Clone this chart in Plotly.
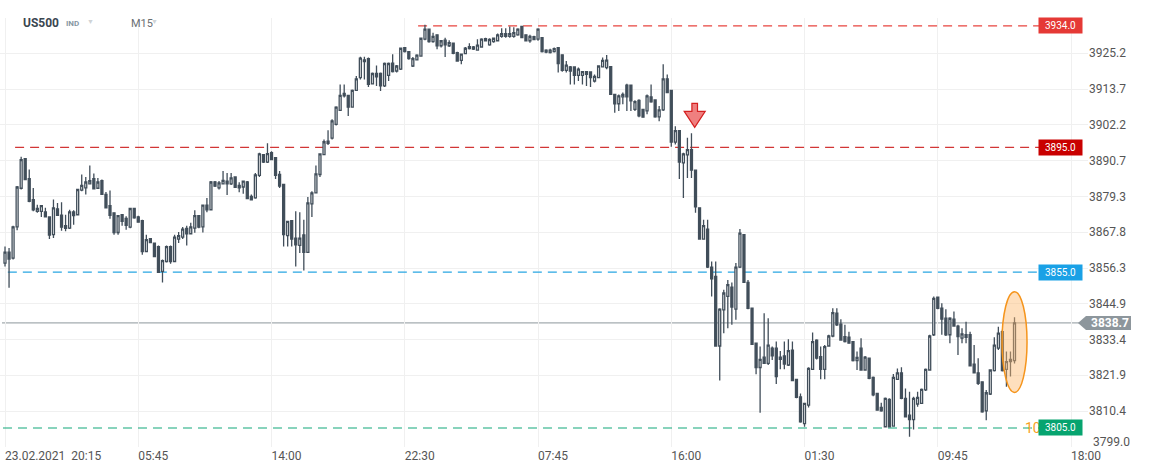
import plotly.graph_objects as go

# ---------------- data (15-minute bars) ----------------
opens = [
    3857.9, 3861.4, 3859.5, 3869.5, 3881.9, 3891.4, 3885.0, 3878.2, 3874.5, 3874.5,
    3874.3, 3872.7, 3867.0, 3875.3, 3873.3, 3869.9, 3869.1, 3874.3, 3873.4, 3881.3,
    3882.0, 3883.3, 3885.0, 3881.9, 3884.3, 3879.9, 3876.3, 3874.0, 3867.7, 3873.4,
    3872.2, 3869.4, 3875.4, 3872.7, 3871.5, 3861.6, 3865.7, 3864.3, 3863.2, 3855.2,
    3858.4, 3863.2, 3858.4, 3865.6, 3866.2, 3869.0, 3867.3, 3869.1, 3873.1, 3869.5,
    3876.5, 3875.0, 3883.9, 3882.0, 3883.3, 3884.2, 3883.3, 3885.5, 3882.8, 3882.3,
    3883.9, 3879.3, 3878.8, 3886.0, 3892.7, 3890.3, 3893.3, 3891.7, 3886.3, 3883.1,
    3866.7, 3871.5, 3865.9, 3863.6, 3866.9, 3861.3, 3876.9, 3880.4, 3886.3, 3892.7,
    3897.0, 3898.0, 3902.4, 3906.9, 3912.3, 3911.7, 3907.9, 3913.3, 3917.4, 3922.5,
    3923.5, 3915.4, 3918.7, 3918.7, 3914.7, 3918.1, 3922.0, 3919.5, 3920.1, 3927.0,
    3925.7, 3921.1, 3923.1, 3924.3, 3929.7, 3932.9, 3928.95, 3931.1, 3927.6, 3929.4,
    3927.6, 3928.4, 3925.4, 3922.9, 3925.1, 3926.7, 3927.2, 3926.2, 3927.2, 3929.9,
    3927.9, 3928.95, 3929.2, 3930.6, 3931.5, 3930.6, 3930.6, 3931.1, 3933.8, 3931.1,
    3929.2, 3930.5, 3929.7, 3930.2, 3926.2, 3925.4, 3925.7, 3927.0, 3924.7, 3919.7,
    3920.8, 3920.8, 3918.1, 3918.1, 3919.3, 3919.2, 3916.3, 3917.4, 3920.8, 3920.6,
    3920.9, 3912.0, 3909.0, 3911.2, 3915.0, 3915.0, 3907.2, 3910.1, 3907.2, 3906.7,
    3911.2, 3910.2, 3904.8, 3907.0, 3917.0, 3913.3, 3896.7, 3900.4, 3890.0, 3892.6,
    3894.3, 3887.7, 3875.6, 3865.6, 3868.8, 3856.6, 3853.6, 3831.3, 3842.9, 3847.2,
    3850.2, 3843.1, 3856.6, 3867.0, 3851.7, 3843.4, 3832.2, 3824.4, 3827.7, 3825.7,
    3830.6, 3830.6, 3827.0, 3828.1, 3825.2, 3830.0, 3820.6, 3815.0, 3806.4, 3812.3,
    3823.8, 3833.2, 3827.9, 3823.8, 3831.3, 3834.5, 3841.8, 3838.3, 3834.3, 3834.1,
    3832.7, 3826.6, 3830.6, 3823.6, 3827.4, 3821.2, 3816.1, 3811.6, 3805.4, 3814.2,
    3805.6, 3820.6, 3822.7, 3814.5, 3809.1, 3807.7, 3812.7, 3812.9, 3817.2, 3823.6,
    3834.9, 3847.0, 3843.4, 3840.2, 3834.9, 3839.9, 3837.7, 3833.8, 3834.9, 3834.9,
    3825.5, 3822.7, 3819.8, 3810.5, 3815.9, 3823.4, 3830.6, 3835.9, 3823.8, 3826.3,
    3826.6,
]
highs = [
    3863.2, 3862.7, 3869.9, 3882.6, 3892.0, 3891.6, 3887.9, 3882.0, 3876.6, 3876.3,
    3875.6, 3872.9, 3878.3, 3877.2, 3877.4, 3873.4, 3875.0, 3874.8, 3881.7, 3886.3,
    3885.5, 3889.2, 3886.6, 3885.2, 3884.7, 3880.7, 3881.2, 3874.2, 3873.3, 3873.6,
    3872.9, 3875.6, 3875.6, 3873.1, 3871.8, 3867.0, 3865.8, 3864.5, 3863.5, 3859.0,
    3863.5, 3863.5, 3867.0, 3867.9, 3869.5, 3869.9, 3870.8, 3874.8, 3873.3, 3876.6,
    3878.8, 3884.2, 3884.2, 3884.2, 3887.4, 3886.8, 3886.8, 3885.6, 3883.8, 3884.4,
    3884.2, 3879.9, 3886.8, 3893.3, 3892.8, 3896.3, 3893.8, 3891.8, 3887.4, 3883.2,
    3871.5, 3871.6, 3874.5, 3874.2, 3871.8, 3879.1, 3880.9, 3889.2, 3893.0, 3897.5,
    3900.5, 3904.0, 3908.2, 3915.2, 3915.2, 3911.8, 3913.6, 3917.9, 3924.1, 3924.1,
    3923.8, 3919.0, 3921.3, 3919.0, 3922.2, 3922.2, 3924.9, 3921.4, 3927.0, 3927.2,
    3925.8, 3924.0, 3924.9, 3930.2, 3934.3, 3933.0, 3931.8, 3931.2, 3929.4, 3930.2,
    3929.4, 3928.6, 3925.7, 3925.1, 3927.2, 3928.4, 3927.5, 3929.7, 3930.0, 3930.2,
    3930.0, 3930.2, 3931.5, 3933.2, 3933.2, 3933.8, 3933.5, 3933.2, 3934.0, 3931.3,
    3931.1, 3930.8, 3933.2, 3930.4, 3926.5, 3926.6, 3927.0, 3927.1, 3924.9, 3922.7,
    3921.1, 3921.0, 3920.6, 3919.5, 3919.4, 3919.3, 3918.4, 3921.3, 3923.8, 3924.6,
    3921.1, 3912.2, 3912.0, 3912.6, 3915.4, 3915.2, 3910.1, 3910.4, 3907.4, 3912.0,
    3915.2, 3910.4, 3908.3, 3921.7, 3918.4, 3913.5, 3901.8, 3900.6, 3893.3, 3898.1,
    3899.5, 3887.9, 3875.8, 3871.8, 3871.8, 3858.4, 3858.4, 3843.4, 3849.3, 3852.5,
    3851.7, 3857.9, 3868.8, 3867.2, 3852.5, 3843.6, 3832.4, 3831.1, 3841.8, 3840.2,
    3831.1, 3832.7, 3829.7, 3832.7, 3833.5, 3832.7, 3820.7, 3816.1, 3813.1, 3824.5,
    3835.6, 3833.5, 3831.1, 3831.6, 3834.9, 3843.4, 3843.4, 3839.9, 3838.1, 3835.9,
    3832.9, 3829.5, 3833.8, 3828.1, 3827.5, 3821.5, 3816.3, 3813.1, 3814.8, 3814.5,
    3822.3, 3824.1, 3824.5, 3817.7, 3816.6, 3815.0, 3816.6, 3817.7, 3824.1, 3834.9,
    3847.2, 3847.2, 3845.0, 3843.1, 3840.5, 3842.4, 3838.1, 3837.0, 3839.1, 3835.9,
    3831.6, 3827.4, 3819.9, 3817.2, 3823.8, 3834.1, 3837.5, 3836.5, 3829.5, 3829.5,
    3840.5,
]
lows = [
    3856.8, 3850.0, 3859.0, 3868.4, 3881.5, 3884.5, 3877.4, 3874.5, 3874.0, 3872.7,
    3872.5, 3865.6, 3865.9, 3873.0, 3868.3, 3868.1, 3868.8, 3870.2, 3873.2, 3880.9,
    3879.9, 3883.1, 3881.5, 3881.7, 3879.7, 3875.4, 3872.1, 3867.0, 3867.0, 3869.9,
    3868.6, 3869.1, 3872.1, 3870.8, 3860.6, 3861.4, 3864.5, 3859.8, 3854.7, 3851.7,
    3858.1, 3857.7, 3858.2, 3864.3, 3865.6, 3863.5, 3867.1, 3867.6, 3869.1, 3867.7,
    3874.2, 3874.8, 3882.3, 3881.5, 3883.1, 3879.7, 3882.9, 3882.0, 3880.6, 3880.1,
    3878.5, 3878.0, 3878.5, 3885.5, 3890.0, 3890.0, 3890.9, 3884.9, 3882.0, 3863.2,
    3863.2, 3863.2, 3856.8, 3861.1, 3855.5, 3861.1, 3872.7, 3880.2, 3885.5, 3892.5,
    3895.8, 3897.5, 3902.0, 3906.7, 3911.0, 3905.1, 3907.7, 3913.1, 3916.8, 3916.8,
    3914.4, 3915.2, 3914.7, 3913.1, 3914.4, 3916.3, 3919.0, 3919.0, 3919.8, 3925.4,
    3923.1, 3920.8, 3923.0, 3924.1, 3929.4, 3928.6, 3928.6, 3926.5, 3927.0, 3924.0,
    3927.2, 3924.9, 3922.5, 3921.7, 3924.9, 3926.4, 3926.2, 3926.0, 3927.0, 3928.95,
    3927.6, 3928.6, 3928.95, 3930.2, 3930.2, 3930.2, 3930.2, 3930.8, 3930.0, 3928.95,
    3928.6, 3929.4, 3929.2, 3925.4, 3925.2, 3925.1, 3925.4, 3919.0, 3919.3, 3919.0,
    3915.2, 3915.2, 3916.3, 3915.2, 3914.7, 3914.4, 3915.8, 3917.2, 3920.6, 3920.1,
    3911.8, 3906.1, 3906.7, 3908.8, 3906.7, 3906.7, 3906.7, 3904.7, 3904.5, 3905.6,
    3909.3, 3904.5, 3903.4, 3906.7, 3912.4, 3895.2, 3895.9, 3884.9, 3878.8, 3885.2,
    3885.2, 3874.0, 3865.4, 3865.4, 3856.3, 3847.2, 3831.1, 3820.2, 3835.4, 3837.0,
    3838.1, 3839.7, 3856.3, 3851.5, 3843.1, 3831.6, 3822.2, 3809.9, 3825.5, 3825.2,
    3826.8, 3819.1, 3823.8, 3823.8, 3824.9, 3820.1, 3814.5, 3806.7, 3805.4, 3811.6,
    3823.6, 3827.0, 3820.6, 3820.6, 3831.1, 3834.1, 3837.7, 3833.0, 3832.4, 3832.0,
    3826.3, 3823.6, 3823.4, 3823.4, 3820.6, 3815.2, 3810.5, 3810.2, 3805.2, 3805.2,
    3805.4, 3820.4, 3814.2, 3808.4, 3802.2, 3804.5, 3811.8, 3812.7, 3816.9, 3823.4,
    3834.5, 3843.1, 3834.9, 3834.5, 3832.2, 3837.5, 3828.4, 3832.2, 3832.2, 3824.7,
    3822.5, 3818.8, 3809.9, 3807.5, 3815.6, 3823.1, 3830.0, 3823.1, 3818.2, 3821.5,
    3825.7,
]
closes = [
    3861.4, 3859.2, 3869.5, 3882.3, 3891.1, 3884.7, 3877.7, 3875.0, 3875.4, 3876.3,
    3872.7, 3866.9, 3875.6, 3873.2, 3869.4, 3869.0, 3874.3, 3873.1, 3881.5, 3882.8,
    3883.9, 3884.3, 3881.7, 3883.9, 3879.9, 3875.6, 3873.2, 3867.7, 3873.1, 3871.3,
    3870.0, 3875.4, 3872.4, 3871.0, 3861.6, 3865.4, 3864.5, 3860.0, 3854.9, 3858.7,
    3863.2, 3858.4, 3866.2, 3866.7, 3868.8, 3867.3, 3869.5, 3873.1, 3869.4, 3876.5,
    3875.0, 3883.9, 3882.6, 3883.6, 3884.4, 3883.3, 3885.2, 3882.2, 3882.0, 3884.2,
    3878.6, 3878.2, 3886.2, 3892.9, 3890.3, 3893.0, 3891.1, 3886.0, 3882.6, 3867.0,
    3871.3, 3865.6, 3863.7, 3865.9, 3861.3, 3877.2, 3880.4, 3886.5, 3892.9, 3896.8,
    3896.3, 3903.5, 3907.9, 3911.7, 3911.5, 3907.9, 3913.3, 3917.0, 3923.6, 3923.1,
    3915.2, 3918.7, 3917.6, 3914.7, 3921.9, 3921.9, 3919.3, 3921.1, 3926.8, 3925.7,
    3923.5, 3923.5, 3924.6, 3930.0, 3932.9, 3928.95, 3930.6, 3927.6, 3929.2, 3927.9,
    3928.6, 3925.2, 3922.7, 3924.9, 3926.8, 3927.3, 3926.5, 3927.8, 3929.7, 3929.2,
    3929.6, 3930.0, 3931.1, 3931.5, 3930.6, 3931.5, 3931.8, 3932.9, 3930.2, 3929.2,
    3930.6, 3929.6, 3932.9, 3925.7, 3925.6, 3926.2, 3926.7, 3921.9, 3919.7, 3921.4,
    3919.5, 3918.1, 3920.1, 3919.3, 3918.4, 3917.4, 3917.8, 3921.1, 3922.9, 3923.0,
    3912.0, 3909.0, 3911.5, 3912.0, 3911.2, 3909.9, 3909.7, 3905.1, 3904.7, 3911.5,
    3909.6, 3904.8, 3907.0, 3917.0, 3912.6, 3896.7, 3900.4, 3890.3, 3892.9, 3894.3,
    3887.7, 3875.9, 3865.6, 3869.9, 3856.6, 3852.8, 3831.3, 3843.1, 3848.3, 3851.0,
    3843.8, 3856.6, 3867.5, 3851.7, 3843.4, 3831.8, 3824.4, 3827.0, 3825.7, 3831.6,
    3828.1, 3821.5, 3827.7, 3825.5, 3829.8, 3820.2, 3814.8, 3807.0, 3812.9, 3824.1,
    3832.7, 3827.4, 3823.8, 3831.1, 3834.5, 3842.0, 3838.1, 3833.2, 3832.7, 3832.2,
    3826.6, 3827.6, 3823.6, 3827.7, 3820.9, 3815.6, 3810.7, 3810.5, 3814.5, 3805.4,
    3821.2, 3822.7, 3814.5, 3808.6, 3807.7, 3814.5, 3814.8, 3817.4, 3823.8, 3834.5,
    3846.6, 3843.4, 3839.9, 3834.9, 3840.2, 3837.7, 3834.3, 3835.2, 3834.1, 3824.9,
    3822.7, 3819.3, 3810.2, 3816.3, 3823.6, 3831.6, 3835.4, 3823.4, 3826.3, 3827.0,
    3838.7,
]

# time axis (bar index based) and its labels
tick_bars = [0, 33, 66, 99, 132, 165, 198, 231, 264]
tick_labels = ["23.02.2021\u00a0\u00a020:15", "05:45", "14:00", "22:30", "07:45",
               "16:00", "01:30", "09:45", "18:00"]

# price axis labels
price_ticks = [3799.0, 3810.4, 3821.9, 3833.4, 3844.9, 3856.3, 3867.8, 3879.3,
               3890.7, 3902.2, 3913.7, 3925.2]

# horizontal levels drawn on the chart
levels = [3934.0, 3895.0, 3855.0, 3805.0]
level_start_bars = [102.3, 2.5, 0.7, -0.5]
level_line_colors = ["#e8443f", "#d23636", "#29a6e2", "#12a87a"]
level_box_colors = ["#e53935", "#c90000", "#1aa1e6", "#06a46f"]

# annotations on the chart
arrow_bar, arrow_price = 170.8, 3901.4
ellipse_bars = [246.9, 253.1]
ellipse_prices = [3816.4, 3848.7]

# ---------------- layout constants ----------------
FONT = "Roboto, 'Open Sans', Arial, sans-serif"
CANDLE = "#414e5a"
W, H = 1151, 472
M_L, M_R, M_T, M_B = 0, 63, 18, 25
PW = W - M_L - M_R
PH = H - M_T - M_B
x_range = [-1.24, 268.2]
y_range = [3798.9, 3936.5]


def px_x(px):
    return (px - M_L) / PW


def px_y(py):
    return (H - M_B - py) / PH


def bar_at_px(px):
    return x_range[0] + px_x(px) * (x_range[1] - x_range[0])


n = len(opens)
assert n == len(highs) == len(lows) == len(closes)
bars = list(range(n))
last_price = closes[-1]

fig = go.Figure(go.Candlestick(
    x=bars, open=opens, high=highs, low=lows, close=closes,
    increasing=dict(fillcolor="white", line=dict(color=CANDLE, width=1.3)),
    decreasing=dict(fillcolor=CANDLE, line=dict(color=CANDLE, width=1.3)),
    whiskerwidth=0, hoverinfo="skip", showlegend=False,
))

shapes = []
annotations = []

# level lines
line_end = bar_at_px(1040)
for lv, sb, lc in zip(levels, level_start_bars, level_line_colors):
    shapes.append(dict(type="line", xref="x", yref="y", x0=sb, x1=line_end, y0=lv, y1=lv,
                       line=dict(color=lc, width=1.2, dash="9px,6px"), layer="between"))

# current price line
shapes.append(dict(type="line", xref="paper", yref="y", x0=px_x(2), x1=1, y0=last_price, y1=last_price,
                   line=dict(color="#8d969c", width=1), layer="between"))

# price tag (arrow box)
shapes.append(dict(type="path", xref="paper", yref="y", xsizemode="pixel", ysizemode="pixel",
                   xanchor=1, yanchor=last_price,
                   path="M -10,0 L -2,7 L 43,7 L 43,-7 L -2,-7 Z",
                   fillcolor="#8d969c", line=dict(width=0), layer="above"))

# red down arrow
shapes.append(dict(type="path", xref="x", yref="y", xsizemode="pixel", ysizemode="pixel",
                   xanchor=arrow_bar, yanchor=arrow_price,
                   path="M 0,0 L -10.5,16 L -2.8,16 L -2.8,24 L 2.8,24 L 2.8,16 L 10.5,16 Z",
                   fillcolor="#ef7f7f", line=dict(color="#d42020", width=1.2), layer="above"))

# orange ellipse
shapes.append(dict(type="circle", xref="x", yref="y",
                   x0=ellipse_bars[0], x1=ellipse_bars[1], y0=ellipse_prices[0], y1=ellipse_prices[1],
                   fillcolor="rgba(253,184,108,0.45)", line=dict(color="#f5951d", width=1.5),
                   layer="above"))

# orange text partially hidden by the green box
annotations.append(dict(xref="paper", yref="y", x=px_x(1042), y=levels[3], xanchor="right",
                        yanchor="middle", text="10", showarrow=False, borderpad=0,
                        font=dict(family=FONT, size=14, color="#f7a01c")))

# level boxes
for lv, bc in zip(levels, level_box_colors):
    annotations.append(dict(xref="paper", yref="y", x=px_x(1083), y=lv, xanchor="right",
                            yanchor="middle", text=f"{lv:.1f}", showarrow=False,
                            bgcolor=bc, width=43, height=15, borderpad=0,
                            font=dict(family=FONT, size=10, color="white")))

annotations.append(dict(xref="paper", yref="y", x=1, xshift=22, y=last_price, xanchor="center",
                        yanchor="middle", text=f"<b>{last_price:.1f}</b>", showarrow=False,
                        font=dict(family=FONT, size=12, color="white")))

# bottom price label (sits slightly above its gridline)
annotations.append(dict(xref="paper", yref="y", x=1, xshift=3, y=price_ticks[0], yshift=5,
                        xanchor="left", yanchor="middle", text=f"{price_ticks[0]:.1f}",
                        showarrow=False, font=dict(family=FONT, size=12, color="#555")))

# header
annotations += [
    dict(xref="paper", yref="paper", x=px_x(21), y=px_y(23), xanchor="left", yanchor="middle",
         text="<b>US500</b>", showarrow=False, font=dict(family=FONT, size=12, color="#3a4650")),
    dict(xref="paper", yref="paper", x=px_x(64), y=px_y(23), xanchor="left", yanchor="middle",
         text="<b>IND</b>", showarrow=False, font=dict(family=FONT, size=8, color="#8797a3")),
    dict(xref="paper", yref="paper", x=px_x(85), y=px_y(22), xanchor="left", yanchor="middle",
         text="▼", showarrow=False, font=dict(family=FONT, size=7, color="#cfd3d6")),
    dict(xref="paper", yref="paper", x=px_x(129), y=px_y(23), xanchor="left", yanchor="middle",
         text="M15", showarrow=False,
         font=dict(family=FONT, size=11, color="#6a6f73")),
    dict(xref="paper", yref="paper", x=px_x(149), y=px_y(22), xanchor="left", yanchor="middle",
         text="▼", showarrow=False, font=dict(family=FONT, size=7, color="#cfd3d6")),
]

fig.update_layout(
    template="none",
    width=W, height=H,
    margin=dict(l=M_L, r=M_R, t=M_T, b=M_B, pad=0),
    paper_bgcolor="white", plot_bgcolor="white",
    font=dict(family=FONT, size=12, color="#555"),
    showlegend=False, hovermode=False, dragmode=False,
    shapes=shapes, annotations=annotations,
    xaxis=dict(range=x_range, tickmode="array", tickvals=tick_bars, ticktext=tick_labels,
               ticklabelposition="outside right", showgrid=True, gridcolor="#f0f0f0",
               gridwidth=1, zeroline=False, showline=False, ticks="",
               tickfont=dict(family=FONT, size=12, color="#555"),
               rangeslider=dict(visible=False), automargin=False, fixedrange=True),
    yaxis=dict(range=y_range, side="right", tickmode="array", tickvals=price_ticks,
               ticktext=[""] + [f"{v:.1f}" for v in price_ticks[1:]],
               showgrid=True, gridcolor="#f0f0f0", gridwidth=1, zeroline=False,
               showline=False, ticks="", tickfont=dict(family=FONT, size=12, color="#555"),
               automargin=False, fixedrange=True),
)

fig.write_html("out.html", config={"displayModeBar": False},
               post_script="document.body.style.margin='0';document.body.style.overflow='hidden';")
